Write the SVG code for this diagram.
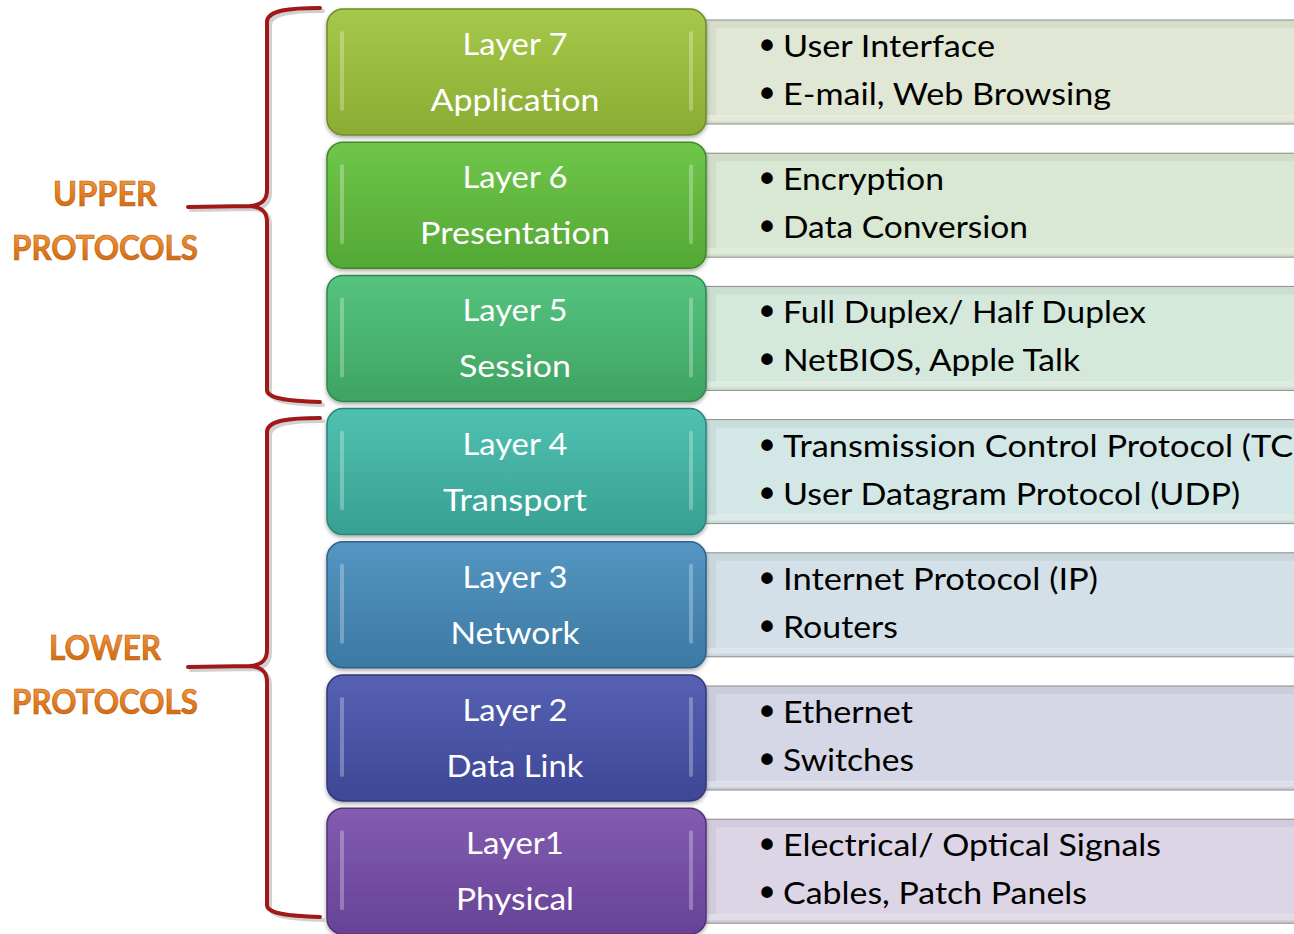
<svg xmlns="http://www.w3.org/2000/svg" width="1294" height="934" viewBox="0 0 1294 934">
<defs>
<style>
.lbl{font-family:Lato,"Liberation Sans",sans-serif;font-size:31px;fill:#ffffff;text-anchor:middle}
.itm{font-family:Lato,"Liberation Sans",sans-serif;font-size:31px;fill:#000000}
.bul{font-family:"Liberation Sans",sans-serif;font-size:40px;font-weight:bold;fill:#000000}
.side{font-family:Lato,"Liberation Sans",sans-serif;font-weight:bold;font-size:34px;text-anchor:middle;fill:url(#og);stroke:#b85a10;stroke-width:0.6}
.brace{fill:none;stroke:#a01818;stroke-width:4;stroke-linecap:round}
.braceSh{fill:none;stroke:#999;stroke-width:4;opacity:0.45;stroke-linecap:round}
.gloss{fill:#ffffff;opacity:0.28}
.pout{stroke:#8c8c8c;stroke-width:1}
.bev{fill:#ffffff;opacity:0.35}
</style>
<linearGradient id="og" x1="0" y1="0" x2="0" y2="1"><stop offset="0" stop-color="#f4a24c"/><stop offset="0.5" stop-color="#e57f22"/><stop offset="1" stop-color="#c9640f"/></linearGradient>
<linearGradient id="g7" x1="0" y1="0" x2="0" y2="1"><stop offset="0" stop-color="#a6c84a"/><stop offset="1" stop-color="#8aac33"/></linearGradient>
<linearGradient id="g6" x1="0" y1="0" x2="0" y2="1"><stop offset="0" stop-color="#70c64a"/><stop offset="1" stop-color="#54a835"/></linearGradient>
<linearGradient id="g5" x1="0" y1="0" x2="0" y2="1"><stop offset="0" stop-color="#55c47f"/><stop offset="1" stop-color="#3fa363"/></linearGradient>
<linearGradient id="g4" x1="0" y1="0" x2="0" y2="1"><stop offset="0" stop-color="#50c1b1"/><stop offset="1" stop-color="#37a093"/></linearGradient>
<linearGradient id="g3" x1="0" y1="0" x2="0" y2="1"><stop offset="0" stop-color="#5596c2"/><stop offset="1" stop-color="#3c79a3"/></linearGradient>
<linearGradient id="g2" x1="0" y1="0" x2="0" y2="1"><stop offset="0" stop-color="#5661b3"/><stop offset="1" stop-color="#3e4796"/></linearGradient>
<linearGradient id="g1" x1="0" y1="0" x2="0" y2="1"><stop offset="0" stop-color="#835cb0"/><stop offset="1" stop-color="#674296"/></linearGradient>
<filter id="sh" x="-5%" y="-10%" width="110%" height="125%"><feDropShadow dx="0" dy="2" stdDeviation="2" flood-color="#000" flood-opacity="0.35"/></filter>
</defs>
<rect width="1294" height="934" fill="#ffffff"/>

<g id="connectors">
<path class="braceSh" transform="translate(3,3)" d="M320,8 C290,8 267,10 267,22 L267,190 C267,200 262,205 250,206 L188,207 M250,206 C262,207 267,212 267,222 L267,390 C267,398 285,401 320,402"/>
<path class="brace" d="M320,8 C290,8 267,10 267,22 L267,190 C267,200 262,205 250,206 L188,207 M250,206 C262,207 267,212 267,222 L267,390 C267,398 285,401 320,402"/>
<path class="braceSh" transform="translate(3,3)" d="M320,418 C290,418 267,420 267,432 L267,650 C267,660 262,665 250,666 L188,667 M250,666 C262,667 267,672 267,682 L267,905 C267,913 285,916 320,917"/>
<path class="brace" d="M320,418 C290,418 267,420 267,432 L267,650 C267,660 262,665 250,666 L188,667 M250,666 C262,667 267,672 267,682 L267,905 C267,913 285,916 320,917"/>
</g>

<g id="upper-protocols">
<text class="side" x="105" y="206" textLength="104" lengthAdjust="spacingAndGlyphs">UPPER</text>
<text class="side" x="105" y="260" textLength="186" lengthAdjust="spacingAndGlyphs">PROTOCOLS</text>
</g>
<g id="lower-protocols">
<text class="side" x="105" y="660" textLength="112" lengthAdjust="spacingAndGlyphs">LOWER</text>
<text class="side" x="105" y="714" textLength="186" lengthAdjust="spacingAndGlyphs">PROTOCOLS</text>
</g>

<!-- Layer 7 -->
<g id="layer7" transform="translate(0,9)">
<rect x="700" y="11" width="610" height="104" fill="#d6ddc9" class="pout"/>
<rect x="716" y="19" width="600" height="88" fill="#e0e7d4"/>
<rect x="700" y="106" width="610" height="6" class="bev"/>
<rect x="327" y="0" width="379" height="126" rx="16" fill="url(#g7)" stroke="#6e8a28" stroke-width="1.5" filter="url(#sh)"/>
<rect x="340" y="22" width="4" height="80" rx="2" class="gloss"/><rect x="689" y="22" width="4" height="80" rx="2" class="gloss"/>
<text class="lbl" x="515" y="46" textLength="105" lengthAdjust="spacingAndGlyphs">Layer 7</text>
<text class="lbl" x="515" y="102" textLength="169" lengthAdjust="spacingAndGlyphs">Application</text>
<text class="bul" x="760" y="50">•</text><text class="itm" x="783" y="48" textLength="212" lengthAdjust="spacingAndGlyphs">User Interface</text>
<text class="bul" x="760" y="98">•</text><text class="itm" x="783" y="96" textLength="328" lengthAdjust="spacingAndGlyphs">E-mail, Web Browsing</text>
</g>

<!-- Layer 6 -->
<g id="layer6" transform="translate(0,142.2)">
<rect x="700" y="11" width="610" height="104" fill="#cfdec8" class="pout"/>
<rect x="716" y="19" width="600" height="88" fill="#d9e8d3"/>
<rect x="700" y="106" width="610" height="6" class="bev"/>
<rect x="327" y="0" width="379" height="126" rx="16" fill="url(#g6)" stroke="#3f8a28" stroke-width="1.5" filter="url(#sh)"/>
<rect x="340" y="22" width="4" height="80" rx="2" class="gloss"/><rect x="689" y="22" width="4" height="80" rx="2" class="gloss"/>
<text class="lbl" x="515" y="46" textLength="105" lengthAdjust="spacingAndGlyphs">Layer 6</text>
<text class="lbl" x="515" y="102" textLength="190" lengthAdjust="spacingAndGlyphs">Presentation</text>
<text class="bul" x="760" y="50">•</text><text class="itm" x="783" y="48" textLength="161" lengthAdjust="spacingAndGlyphs">Encryption</text>
<text class="bul" x="760" y="98">•</text><text class="itm" x="783" y="96" textLength="245" lengthAdjust="spacingAndGlyphs">Data Conversion</text>
</g>

<!-- Layer 5 -->
<g id="layer5" transform="translate(0,275.4)">
<rect x="700" y="11" width="610" height="104" fill="#cadfd1" class="pout"/>
<rect x="716" y="19" width="600" height="88" fill="#d4e8db"/>
<rect x="700" y="106" width="610" height="6" class="bev"/>
<rect x="327" y="0" width="379" height="126" rx="16" fill="url(#g5)" stroke="#2f8550" stroke-width="1.5" filter="url(#sh)"/>
<rect x="340" y="22" width="4" height="80" rx="2" class="gloss"/><rect x="689" y="22" width="4" height="80" rx="2" class="gloss"/>
<text class="lbl" x="515" y="46" textLength="105" lengthAdjust="spacingAndGlyphs">Layer 5</text>
<text class="lbl" x="515" y="102" textLength="112" lengthAdjust="spacingAndGlyphs">Session</text>
<text class="bul" x="760" y="50">•</text><text class="itm" x="783" y="48" textLength="363" lengthAdjust="spacingAndGlyphs">Full Duplex/ Half Duplex</text>
<text class="bul" x="760" y="98">•</text><text class="itm" x="783" y="96" textLength="297" lengthAdjust="spacingAndGlyphs">NetBIOS, Apple Talk</text>
</g>

<!-- Layer 4 -->
<g id="layer4" transform="translate(0,408.6)">
<rect x="700" y="11" width="610" height="104" fill="#c9dedc" class="pout"/>
<rect x="716" y="19" width="600" height="88" fill="#d3e8e6"/>
<rect x="700" y="106" width="610" height="6" class="bev"/>
<rect x="327" y="0" width="379" height="126" rx="16" fill="url(#g4)" stroke="#2a8379" stroke-width="1.5" filter="url(#sh)"/>
<rect x="340" y="22" width="4" height="80" rx="2" class="gloss"/><rect x="689" y="22" width="4" height="80" rx="2" class="gloss"/>
<text class="lbl" x="515" y="46" textLength="105" lengthAdjust="spacingAndGlyphs">Layer 4</text>
<text class="lbl" x="515" y="102" textLength="144" lengthAdjust="spacingAndGlyphs">Transport</text>
<text class="bul" x="760" y="50">•</text><text class="itm" x="783" y="48" textLength="540" lengthAdjust="spacingAndGlyphs">Transmission Control Protocol (TCP)</text>
<text class="bul" x="760" y="98">•</text><text class="itm" x="783" y="96" textLength="457" lengthAdjust="spacingAndGlyphs">User Datagram Protocol (UDP)</text>
</g>

<!-- Layer 3 -->
<g id="layer3" transform="translate(0,541.8)">
<rect x="700" y="11" width="610" height="104" fill="#cad6de" class="pout"/>
<rect x="716" y="19" width="600" height="88" fill="#d4e0e8"/>
<rect x="700" y="106" width="610" height="6" class="bev"/>
<rect x="327" y="0" width="379" height="126" rx="16" fill="url(#g3)" stroke="#2d6189" stroke-width="1.5" filter="url(#sh)"/>
<rect x="340" y="22" width="4" height="80" rx="2" class="gloss"/><rect x="689" y="22" width="4" height="80" rx="2" class="gloss"/>
<text class="lbl" x="515" y="46" textLength="105" lengthAdjust="spacingAndGlyphs">Layer 3</text>
<text class="lbl" x="515" y="102" textLength="129" lengthAdjust="spacingAndGlyphs">Network</text>
<text class="bul" x="760" y="50">•</text><text class="itm" x="783" y="48" textLength="315" lengthAdjust="spacingAndGlyphs">Internet Protocol (IP)</text>
<text class="bul" x="760" y="98">•</text><text class="itm" x="783" y="96" textLength="115" lengthAdjust="spacingAndGlyphs">Routers</text>
</g>

<!-- Layer 2 -->
<g id="layer2" transform="translate(0,675)">
<rect x="700" y="11" width="610" height="104" fill="#cbccdc" class="pout"/>
<rect x="716" y="19" width="600" height="88" fill="#d5d6e6"/>
<rect x="700" y="106" width="610" height="6" class="bev"/>
<rect x="327" y="0" width="379" height="126" rx="16" fill="url(#g2)" stroke="#30367a" stroke-width="1.5" filter="url(#sh)"/>
<rect x="340" y="22" width="4" height="80" rx="2" class="gloss"/><rect x="689" y="22" width="4" height="80" rx="2" class="gloss"/>
<text class="lbl" x="515" y="46" textLength="105" lengthAdjust="spacingAndGlyphs">Layer 2</text>
<text class="lbl" x="515" y="102" textLength="137" lengthAdjust="spacingAndGlyphs">Data Link</text>
<text class="bul" x="760" y="50">•</text><text class="itm" x="783" y="48" textLength="130" lengthAdjust="spacingAndGlyphs">Ethernet</text>
<text class="bul" x="760" y="98">•</text><text class="itm" x="783" y="96" textLength="131" lengthAdjust="spacingAndGlyphs">Switches</text>
</g>

<!-- Layer 1 -->
<g id="layer1" transform="translate(0,808.2)">
<rect x="700" y="11" width="610" height="104" fill="#d2cbdb" class="pout"/>
<rect x="716" y="19" width="600" height="88" fill="#dcd5e5"/>
<rect x="700" y="106" width="610" height="6" class="bev"/>
<rect x="327" y="0" width="379" height="126" rx="16" fill="url(#g1)" stroke="#51337a" stroke-width="1.5" filter="url(#sh)"/>
<rect x="340" y="22" width="4" height="80" rx="2" class="gloss"/><rect x="689" y="22" width="4" height="80" rx="2" class="gloss"/>
<text class="lbl" x="515" y="46" textLength="98" lengthAdjust="spacingAndGlyphs">Layer1</text>
<text class="lbl" x="515" y="102" textLength="118" lengthAdjust="spacingAndGlyphs">Physical</text>
<text class="bul" x="760" y="50">•</text><text class="itm" x="783" y="48" textLength="378" lengthAdjust="spacingAndGlyphs">Electrical/ Optical Signals</text>
<text class="bul" x="760" y="98">•</text><text class="itm" x="783" y="96" textLength="304" lengthAdjust="spacingAndGlyphs">Cables, Patch Panels</text>
</g>
</svg>
